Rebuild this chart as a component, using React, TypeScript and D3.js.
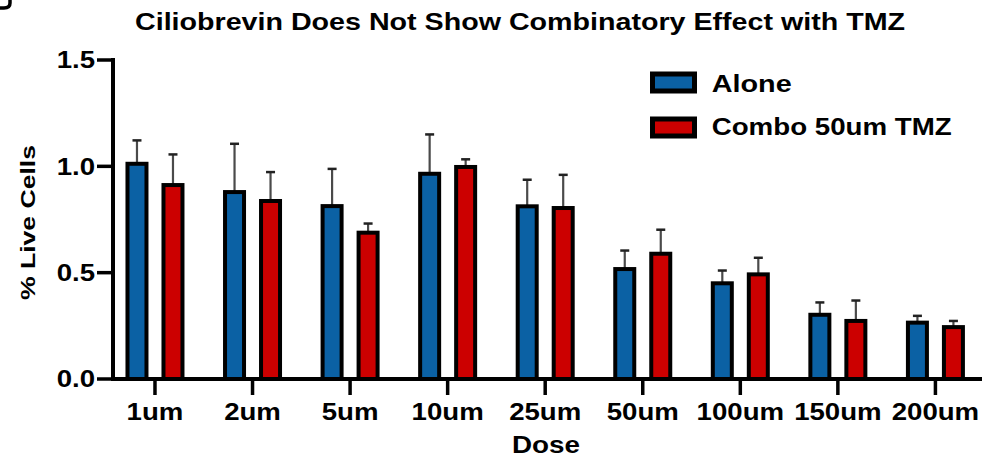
import React from "react";
import * as d3 from "d3";

const doses = ["1um", "2um", "5um", "10um", "25um", "50um", "100um", "150um", "200um"];
const seriesNames = ["Alone", "Combo 50um TMZ"];
const aloneMean = [1.012, 0.879, 0.813, 0.965, 0.812, 0.517, 0.45, 0.302, 0.265];
const aloneErr = [0.11, 0.227, 0.175, 0.185, 0.125, 0.087, 0.06, 0.058, 0.032];
const comboMean = [0.912, 0.837, 0.688, 0.997, 0.804, 0.589, 0.492, 0.273, 0.244];
const comboErr = [0.144, 0.136, 0.043, 0.036, 0.156, 0.113, 0.078, 0.096, 0.029];
const yTicks = [0.0, 0.5, 1.0, 1.5];
const colors = ["#0b61a4", "#cc0000"];
const title = "Ciliobrevin Does Not Show Combinatory Effect with TMZ";

const W = 987;
const H = 459;
const FONT = "'Liberation Sans', Arial, Helvetica, sans-serif";
const SX = 1.2;

export default function App() {
  const x0 = d3.scaleBand<string>().domain(doses).range([106.2, 984.2]).padding(0);
  const bw = x0.bandwidth();
  const x1 = d3
    .scaleBand<string>()
    .domain(seriesNames)
    .range([bw / 2 - 36, bw / 2 + 36])
    .padding(0);
  const y = d3.scaleLinear().domain([0, 1.5]).range([379, 60]);
  const means = [aloneMean, comboMean];
  const errs = [aloneErr, comboErr];
  const barW = 19;
  const axisX = 113;

  return (
    <svg
      width={W}
      height={H}
      style={{ position: "absolute", left: 0, top: 0, background: "#fff" }}
      fontFamily={FONT}
      fontWeight="bold"
    >
      <rect x={0} y={0} width={W} height={H} fill="#fff" />
      {/* cropped remnant of the panel letter (drawn as a shape) */}
      <path d="M0,8 L4,8 Q10,8 10,3 L10,0" fill="none" stroke="#000" strokeWidth={3.5} />

      {/* title */}
      <text
        x={135}
        y={29.5}
        fontSize={23}
        textLength={770}
        lengthAdjust="spacingAndGlyphs"
        fill="#000"
      >
        {title}
      </text>

      {/* bars */}
      {doses.map((d, i) => (
        <g key={d} transform={`translate(${x0(d)},0)`}>
          {seriesNames.map((s, j) => {
            const cx = (x1(s) as number) + x1.bandwidth() / 2;
            const v = means[j][i];
            const e = errs[j][i];
            return (
              <g key={s}>
                <line x1={cx} x2={cx} y1={y(v)} y2={y(v + e)} stroke="#4a4a4a" strokeWidth={2.2} />
                <line x1={cx - 4.5} x2={cx + 4.5} y1={y(v + e)} y2={y(v + e)} stroke="#222" strokeWidth={2.5} />
                <rect
                  x={cx - barW / 2}
                  y={y(v)}
                  width={barW}
                  height={y(0) - y(v)}
                  fill={colors[j]}
                  stroke="#000"
                  strokeWidth={4}
                />
              </g>
            );
          })}
        </g>
      ))}

      {/* y axis */}
      <line x1={axisX} x2={axisX} y1={y(1.5) - 2} y2={y(0) + 2} stroke="#000" strokeWidth={4} />
      {yTicks.map((t) => (
        <g key={t}>
          <line x1={97} x2={axisX} y1={y(t)} y2={y(t)} stroke="#000" strokeWidth={3.5} />
          <text
            transform={`translate(95,${y(t) + 8.3}) scale(${SX},1)`}
            textAnchor="end"
            fontSize={23}
            fill="#000"
          >
            {t.toFixed(1)}
          </text>
        </g>
      ))}

      {/* x axis */}
      <line x1={axisX - 2} x2={982} y1={y(0)} y2={y(0)} stroke="#000" strokeWidth={4} />
      {doses.map((d) => {
        const cx = (x0(d) as number) + bw / 2;
        return (
          <g key={d}>
            <line x1={cx} x2={cx} y1={y(0)} y2={395} stroke="#000" strokeWidth={3.5} />
            <text
              transform={`translate(${cx},420) scale(${SX},1)`}
              textAnchor="middle"
              fontSize={23}
              fill="#000"
            >
              {d}
            </text>
          </g>
        );
      })}

      {/* axis titles */}
      <text
        x={512}
        y={453.3}
        fontSize={23}
        textLength={68}
        lengthAdjust="spacingAndGlyphs"
        fill="#000"
      >
        Dose
      </text>
      <text
        transform={`translate(35,${222.5 + 77.5}) rotate(-90)`}
        fontSize={21}
        textLength={155}
        lengthAdjust="spacingAndGlyphs"
        fill="#000"
      >
        % Live Cells
      </text>

      {/* legend */}
      {seriesNames.map((s, j) => (
        <g key={s}>
          <rect
            x={652.5}
            y={74 + j * 45}
            width={42}
            height={17}
            fill={colors[j]}
            stroke="#000"
            strokeWidth={5}
          />
          <text
            x={711.7}
            y={91.7 + j * 43.3}
            fontSize={23}
            textLength={j === 0 ? 80 : 240}
            lengthAdjust="spacingAndGlyphs"
            fill="#000"
          >
            {s}
          </text>
        </g>
      ))}
    </svg>
  );
}
